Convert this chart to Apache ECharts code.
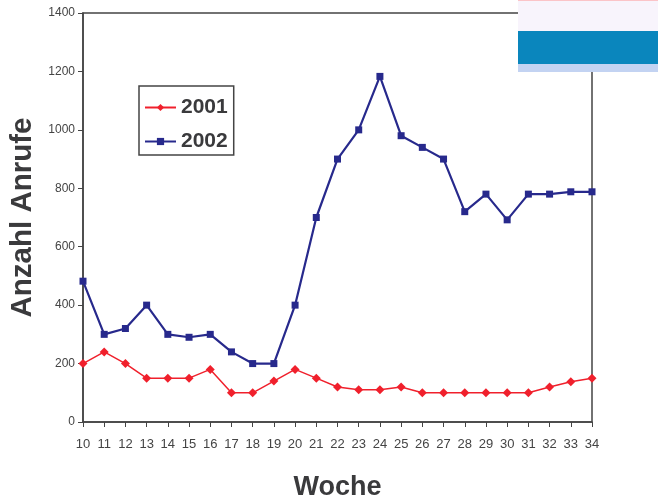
<!DOCTYPE html>
<html>
<head>
<meta charset="utf-8">
<script src="https://cdn.jsdelivr.net/npm/echarts@6/dist/echarts.min.js"></script>
<style>
  html, body { margin: 0; padding: 0; background: #fff; }
  #chart { width: 658px; height: 501px; }
</style>
</head>
<body>
<div id="chart"></div>
<script>
const weeks = ["10","11","12","13","14","15","16","17","18","19","20","21","22","23","24","25","26","27","28","29","30","31","32","33","34"];
const calls2001 = [200,240,200,150,150,150,180,100,100,140,180,150,120,110,110,120,100,100,100,100,100,100,120,138,150];
const calls2002 = [482,300,320,400,300,290,300,240,200,200,400,700,900,1000,1183,980,940,900,720,780,692,780,780,788,788];

var myChart = echarts.init(document.getElementById("chart"));
const font = "Liberation Sans";

let option = {
  animation: false,
  textStyle: { fontFamily: font },
  grid: { left: 83, right: 66, top: 13, bottom: 79, outerBoundsMode: "none", show: true, borderColor: "#444", borderWidth: 1.5 },
  legend: {
    left: 139, top: 86,
    orient: "vertical",
    padding: [11, 6, 3, 5],
    itemGap: 13,
    itemWidth: 31,
    itemHeight: 9,
    borderColor: "#444",
    borderWidth: 1.5,
    textStyle: { fontSize: 21, fontWeight: "bold", color: "#3a3a3c", fontFamily: font },
    data: ["2001", "2002"]
  },
  xAxis: {
    type: "category",
    data: weeks,
    boundaryGap: false,
    name: "Woche",
    nameLocation: "middle",
    nameGap: 52,
    nameTextStyle: { fontSize: 27, fontWeight: "bold", color: "#3a3a3c" },
    axisLine: { lineStyle: { color: "#444", width: 1.5 } },
    axisTick: { alignWithLabel: true, length: 5, lineStyle: { color: "#444" } },
    axisLabel: { fontSize: 13, color: "#444", margin: 16, interval: 0 }
  },
  yAxis: {
    type: "value",
    min: 0, max: 1400, interval: 200,
    name: "Anzahl Anrufe",
    nameLocation: "middle",
    nameGap: 39,
    nameTextStyle: { fontSize: 29.5, fontWeight: "bold", color: "#3a3a3c" },
    axisLine: { show: true, lineStyle: { color: "#444", width: 1.5 } },
    axisTick: { show: true, length: 5, lineStyle: { color: "#444" } },
    axisLabel: { fontSize: 12, color: "#444", margin: 8, formatter: (v) => String(v) },
    splitLine: { show: false }
  },
  series: [
    {
      name: "2001", type: "line", data: calls2001,
      symbol: "diamond", symbolSize: 9,
      color: "#f0202c",
      lineStyle: { width: 1.5, color: "#f0202c" },
      itemStyle: { color: "#f0202c" }
    },
    {
      name: "2002", type: "line", data: calls2002,
      symbol: "rect", symbolSize: 7,
      color: "#27298c",
      lineStyle: { width: 2.2, color: "#27298c" },
      itemStyle: { color: "#27298c" }
    }
  ],
  // flag-like image patch in the top right corner
  graphic: [
    { type: "rect", z: 100, shape: { x: 518, y: 0, width: 140, height: 1 }, style: { fill: "#fbc4c8" } },
    { type: "rect", z: 100, shape: { x: 518, y: 1, width: 140, height: 30 }, style: { fill: "#f8f4fc" } },
    { type: "rect", z: 100, shape: { x: 518, y: 31, width: 140, height: 33 }, style: { fill: "#0a86bd" } },
    { type: "rect", z: 100, shape: { x: 518, y: 64, width: 140, height: 8 }, style: { fill: "#c3d3f2" } }
  ]
};

myChart.setOption(option);
</script>
</body>
</html>
